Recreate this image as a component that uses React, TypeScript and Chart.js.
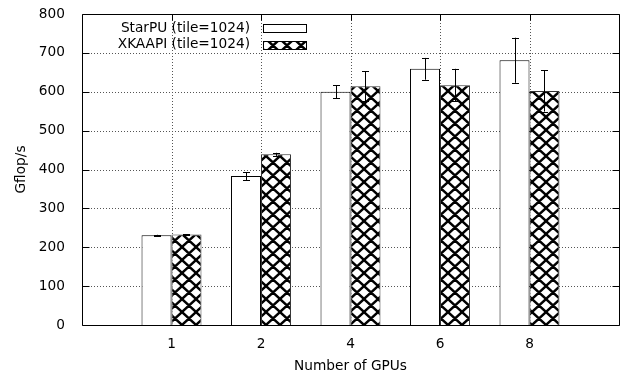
import React, { useEffect, useRef } from 'react';
import { Chart, registerables } from 'chart.js';

Chart.register(...registerables);

const categories = ['1', '2', '4', '6', '8'];
const starpuValues = [231, 383, 600, 659, 681];
const starpuErrors = [1, 10, 17, 28, 58];
const xkaapiValues = [233, 439, 614, 617, 602];
const xkaapiErrors = [1, 4, 39, 42, 53];
const seriesLabels = ['StarPU (tile=1024)', 'XKAAPI (tile=1024)'];
const yMin = 0;
const yMax = 800;
const yStep = 100;
const xTitle = 'Number of GPUs';
const yTitle = 'Gflop/s';

const FONT = 'DejaVu Sans';
const FONT_SIZE = 13.7;

function makeHatch(): CanvasPattern {
  const w = 14, h = 13;
  const c = document.createElement('canvas');
  c.width = w;
  c.height = h;
  const g = c.getContext('2d')!;
  g.fillStyle = '#fff';
  g.fillRect(0, 0, w, h);
  g.strokeStyle = '#000';
  g.lineWidth = 2.4;
  g.beginPath();
  for (const dx of [-w, 0, w]) {
    for (const dy of [-h, 0, h]) {
      g.moveTo(dx, dy);
      g.lineTo(dx + w, dy + h);
      g.moveTo(dx + w, dy);
      g.lineTo(dx, dy + h);
    }
  }
  g.stroke();
  return g.createPattern(c, 'repeat')!;
}

export default function App() {
  const ref = useRef<HTMLCanvasElement | null>(null);

  useEffect(() => {
    const canvas = ref.current;
    if (!canvas) return;
    Chart.defaults.font.family = FONT;
    Chart.defaults.font.size = FONT_SIZE;
    Chart.defaults.color = '#000';
    const hatch = makeHatch();
    const errors = [starpuErrors, xkaapiErrors];
    const values = [starpuValues, xkaapiValues];

    const decor = {
      id: 'decor',
      beforeDatasetsDraw(chart: any) {
        const { ctx, chartArea: a, scales } = chart;
        const ys = scales.y, xs = scales.x;
        ctx.save();
        ctx.strokeStyle = '#555';
        ctx.lineWidth = 1;
        ctx.setLineDash([1, 2]);
        ctx.beginPath();
        for (let v = yMin + yStep; v < yMax; v += yStep) {
          const y = Math.round(ys.getPixelForValue(v)) + 0.5;
          ctx.moveTo(a.left, y);
          ctx.lineTo(a.right, y);
        }
        categories.forEach((_, i) => {
          const x = Math.round(xs.getPixelForValue(i)) + 0.5;
          ctx.moveTo(x, a.top);
          ctx.lineTo(x, a.bottom);
        });
        ctx.stroke();
        ctx.restore();
      },
      afterDatasetsDraw(chart: any) {
        const { ctx, chartArea: a, scales } = chart;
        const ys = scales.y, xs = scales.x;
        ctx.save();
        // error bars
        ctx.strokeStyle = '#000';
        ctx.lineWidth = 1;
        ctx.beginPath();
        for (let d = 0; d < 2; d++) {
          const meta = chart.getDatasetMeta(d);
          meta.data.forEach((el: any, j: number) => {
            const x = Math.round(el.x) + 0.5;
            const yt = ys.getPixelForValue(values[d][j] + errors[d][j]);
            const yb = ys.getPixelForValue(values[d][j] - errors[d][j]);
            ctx.moveTo(x, yt);
            ctx.lineTo(x, yb);
            ctx.moveTo(x - 3.5, Math.round(yt) + 0.5);
            ctx.lineTo(x + 3.5, Math.round(yt) + 0.5);
            ctx.moveTo(x - 3.5, Math.round(yb) + 0.5);
            ctx.lineTo(x + 3.5, Math.round(yb) + 0.5);
          });
        }
        ctx.stroke();
        // frame
        const L = Math.round(a.left) + 0.5, R = Math.round(a.right) + 0.5;
        const T = Math.round(a.top) + 0.5, B = Math.round(a.bottom) + 0.5;
        ctx.beginPath();
        ctx.rect(L, T, R - L, B - T);
        // ticks
        for (let v = yMin; v <= yMax; v += yStep) {
          const y = Math.round(ys.getPixelForValue(v)) + 0.5;
          ctx.moveTo(L, y);
          ctx.lineTo(L + 7, y);
          ctx.moveTo(R, y);
          ctx.lineTo(R - 7, y);
        }
        categories.forEach((_, i) => {
          const x = Math.round(xs.getPixelForValue(i)) + 0.5;
          ctx.moveTo(x, T);
          ctx.lineTo(x, T + 6);
        });
        ctx.stroke();
        // legend
        const rows = [28, 44.5];
        ctx.font = `${FONT_SIZE}px "${FONT}"`;
        ctx.textAlign = 'right';
        ctx.textBaseline = 'middle';
        seriesLabels.forEach((lab, i) => {
          const cy = rows[i];
          ctx.fillStyle = '#000';
          ctx.fillText(lab, 250, cy);
          ctx.fillStyle = i === 0 ? '#fff' : hatch;
          ctx.fillRect(263, Math.round(cy) - 4, 43, 8);
          ctx.strokeStyle = '#000';
          ctx.strokeRect(263.5, Math.round(cy) - 4 + 0.5, 43, 8);
        });
        ctx.restore();
      },
    };

    const chart = new Chart(canvas, {
      type: 'bar',
      data: {
        datasets: [
          {
            label: seriesLabels[0],
            data: starpuValues.map((v, i) => ({ x: i, y: v })),
            backgroundColor: '#fff',
            borderColor: '#000',
            borderWidth: 1,
            categoryPercentage: 0.67,
            barPercentage: 1,
          },
          {
            label: seriesLabels[1],
            data: xkaapiValues.map((v, i) => ({ x: i, y: v })),
            backgroundColor: hatch,
            borderColor: '#333',
            borderWidth: 1,
            categoryPercentage: 0.67,
            barPercentage: 1,
          },
        ],
      },
      options: {
        animation: false,
        responsive: false,
        devicePixelRatio: 1,
        layout: { padding: { left: 0, top: 14, right: 4, bottom: 0 } },
        plugins: { legend: { display: false }, tooltip: { enabled: false } },
        scales: {
          x: {
            type: 'linear',
            min: -1,
            max: 5,
            offset: false,
            grid: { display: false, offset: false },
            border: { display: false },
            ticks: {
              stepSize: 1,
              autoSkip: false,
              maxRotation: 0,
              padding: 3,
              color: '#000',
              callback: (v: any) => categories[v as number] ?? '',
            },
            title: { display: true, text: xTitle, color: '#000', padding: { top: 0, bottom: 0 } },
            afterFit: (s: any) => {
              s.height = 50;
              s.paddingLeft = 0;
              s.paddingRight = 0;
            },
          },
          y: {
            min: yMin,
            max: yMax,
            grid: { display: false },
            border: { display: false },
            ticks: { stepSize: yStep, padding: 9, color: '#000' },
            title: { display: true, text: yTitle, color: '#000', padding: { top: 13, bottom: 0 } },
            afterFit: (s: any) => {
              s.width = 82;
              s.paddingTop = 0;
              s.paddingBottom = 0;
            },
          },
        },
      },
      plugins: [decor],
    } as any);
    return () => chart.destroy();
  }, []);

  return (
    <div style={{ position: 'fixed', left: 0, top: 0, width: 623, height: 375, background: '#fff' }}>
      <canvas ref={ref} width={623} height={375} style={{ display: 'block' }} />
    </div>
  );
}
